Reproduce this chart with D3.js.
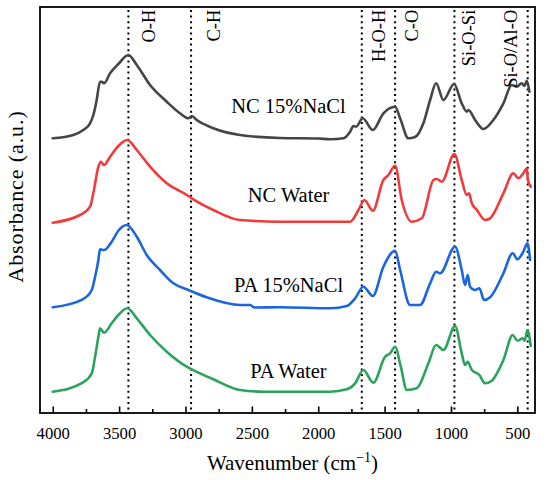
<!DOCTYPE html>
<html lang="en">
<head>
  <meta charset="UTF-8">
  <title>FTIR spectra</title>
  <script src="https://d3js.org/d3.v7.min.js"></script>
  <style>
    body {
      margin: 0;
      background-color: #fff;
    }

    svg {
      display: block;
      font-family: 'Liberation Serif', 'Times New Roman', serif;
    }

    .frame {
      fill: none;
      stroke: #000;
      stroke-width: 1.8px;
    }

    .axis path {
      display: none;
    }

    .axis line {
      stroke: #000;
      stroke-width: 1.6px;
    }

    .axis text {
      font-family: 'Liberation Serif', 'Times New Roman', serif;
      font-size: 16.7px;
      fill: #000;
    }

    .spectrum {
      fill: none;
      stroke-width: 2.6px;
      stroke-linejoin: round;
      stroke-linecap: round;
    }

    .marker {
      stroke: #000;
      stroke-width: 2px;
      stroke-dasharray: 2,3.6;
    }
  </style>
</head>
<body>
  <svg width="550" height="480"></svg>

  <script>
    // spectra: [wavenumber cm-1, stacked absorbance a.u.]
    const ncNacl = [
      [4000, 2.747], [3845, 2.78], [3770, 2.83], [3719, 2.897], [3694, 2.98], [3669, 3.13],
      [3644, 3.313], [3631, 3.313], [3614, 3.297], [3568, 3.397], [3506, 3.49], [3430, 3.58],
      [3367, 3.48], [3267, 3.28], [3141, 3.113], [3041, 2.997], [2978, 2.947], [2953, 2.97],
      [2915, 2.93], [2790, 2.847], [2589, 2.78], [2286, 2.75], [2000, 2.745], [1911, 2.737],
      [1811, 2.747], [1760, 2.813], [1735, 2.87], [1715, 2.863], [1665, 2.947], [1589, 2.83],
      [1509, 2.997], [1421, 3.063], [1383, 2.947], [1321, 2.747], [1270, 2.76], [1208, 2.897],
      [1157, 3.13], [1112, 3.297], [1057, 3.13], [977, 3.29], [919, 3.097], [881, 3.013],
      [869, 3.03], [818, 2.93], [756, 2.84], [681, 2.93], [605, 3.097], [542, 3.28],
      [504, 3.263], [467, 3.297], [447, 3.27], [429, 3.323], [409, 3.213]
    ];

    const ncWater = [
      [4000, 1.903], [3794, 1.98], [3719, 2.063], [3694, 2.2], [3656, 2.463], [3638, 2.513],
      [3614, 2.48], [3568, 2.563], [3506, 2.67], [3438, 2.73], [3367, 2.63], [3267, 2.463],
      [3141, 2.297], [2990, 2.18], [2953, 2.147], [2790, 2.03], [2589, 1.93], [2287, 1.913],
      [1760, 1.913], [1697, 2.03], [1652, 2.13], [1589, 2.023], [1509, 2.33], [1471, 2.38],
      [1421, 2.473], [1371, 2.13], [1295, 1.913], [1220, 1.947], [1132, 2.33], [1107, 2.34],
      [1069, 2.313], [974, 2.59], [919, 2.33], [881, 2.18], [864, 2.197], [843, 2.097],
      [805, 2.03], [743, 1.93], [705, 1.947], [605, 2.197], [530, 2.397], [492, 2.347],
      [455, 2.397], [429, 2.447], [420, 2.33], [399, 2.263]
    ];

    const paNacl = [
      [4000, 1.057], [3774, 1.137], [3706, 1.23], [3681, 1.363], [3656, 1.53], [3644, 1.637],
      [3614, 1.63], [3556, 1.713], [3506, 1.823], [3443, 1.88], [3367, 1.763], [3292, 1.58],
      [3192, 1.43], [3091, 1.297], [2978, 1.23], [2840, 1.157], [2589, 1.08], [2513, 1.08],
      [2480, 1.055], [2287, 1.057], [1911, 1.047], [1785, 1.07], [1722, 1.147], [1660, 1.263],
      [1589, 1.17], [1509, 1.463], [1421, 1.623], [1383, 1.43], [1308, 1.08], [1233, 1.08],
      [1157, 1.297], [1112, 1.413], [1082, 1.397], [969, 1.663], [919, 1.43], [894, 1.28],
      [874, 1.38], [856, 1.263], [818, 1.23], [786, 1.247], [751, 1.13], [705, 1.157],
      [605, 1.397], [535, 1.597], [499, 1.537], [455, 1.613], [424, 1.697], [404, 1.53]
    ];

    const paWater = [
      [4000, 0.213], [3774, 0.303], [3706, 0.397], [3681, 0.563], [3656, 0.763], [3644, 0.847],
      [3614, 0.803], [3556, 0.897], [3506, 0.98], [3438, 1.047], [3367, 0.947], [3267, 0.78],
      [3141, 0.613], [2990, 0.463], [2953, 0.437], [2790, 0.337], [2589, 0.23], [2400, 0.213],
      [2287, 0.213], [1911, 0.213], [1785, 0.237], [1722, 0.297], [1660, 0.43], [1585, 0.303],
      [1496, 0.563], [1459, 0.597], [1421, 0.663], [1378, 0.463], [1333, 0.23], [1258, 0.247],
      [1170, 0.497], [1112, 0.68], [1057, 0.63], [969, 0.87], [919, 0.597], [894, 0.48],
      [874, 0.513], [843, 0.43], [786, 0.38], [743, 0.297], [693, 0.323], [605, 0.53],
      [535, 0.78], [499, 0.723], [459, 0.747], [445, 0.723], [424, 0.83], [399, 0.67]
    ];

    const seriesNames = ["NC 15%NaCl", "NC Water", "PA 15%NaCl", "PA Water"];
    const seriesData = [ncNacl, ncWater, paNacl, paWater];
    const seriesColors = ["#454545", "#f23a3c", "#1a66e0", "#2ca35d"];

    const bondLabels = ["O-H", "C-H", "H-O-H", "C-O", "Si-O-Si", "Si-O/Al-O"];
    const bondWavenumbers = [3430, 2958, 1672, 1421, 974, 422];

    const majorTicks = [4000, 3500, 3000, 2500, 2000, 1500, 1000, 500];
    const minorTicks = [3750, 3250, 2750, 2250, 1750, 1250, 750];

    // layout
    const svg = d3.select("svg"),
          plotLeft = 40, plotRight = 535, plotTop = 7, plotBottom = 413;

    const x = d3.scaleLinear().domain([4096, 367]).range([plotLeft, plotRight]);
    const y = d3.scaleLinear().domain([0, 4.06]).range([plotBottom, plotTop]);

    const labelAnchor = {wn: 2224, dy: [3.0, 2.11, 1.213, 0.347]};
    const bondOffsets = [26.7, 29, 23.3, 23, 20.7, -11];

    // dotted marker lines
    svg.selectAll(".marker")
      .data(bondWavenumbers)
      .enter().append("line")
        .attr("class", "marker")
        .attr("x1", d => x(d))
        .attr("x2", d => x(d))
        .attr("y1", plotTop + 3)
        .attr("y2", plotBottom);

    // spectra
    const line = d3.line()
      .x(d => x(d[0]))
      .y(d => y(d[1]))
      .curve(d3.curveMonotoneX);

    svg.selectAll(".spectrum")
      .data(seriesData)
      .enter().append("path")
        .attr("class", "spectrum")
        .attr("stroke", (d, i) => seriesColors[i])
        .attr("d", line);

    // series labels
    svg.selectAll(".series-label")
      .data(seriesNames)
      .enter().append("text")
        .attr("class", "series-label")
        .attr("x", x(labelAnchor.wn))
        .attr("y", (d, i) => y(labelAnchor.dy[i]))
        .attr("text-anchor", "middle")
        .style("font-size", "20.5px")
        .text(d => d);

    // bond labels, rotated
    svg.selectAll(".bond-label")
      .data(bondLabels)
      .enter().append("text")
        .attr("class", "bond-label")
        .attr("transform", (d, i) => `translate(${x(bondWavenumbers[i]) + bondOffsets[i]},${plotTop + 2.7}) rotate(-90)`)
        .attr("text-anchor", "end")
        .style("font-size", "18.5px")
        .text(d => d);

    // frame
    svg.append("rect")
      .attr("class", "frame")
      .attr("x", plotLeft)
      .attr("y", plotTop)
      .attr("width", plotRight - plotLeft)
      .attr("height", plotBottom - plotTop);

    // bottom axis, ticks pointing inward
    svg.append("g")
      .attr("class", "axis")
      .attr("transform", `translate(0,${plotBottom})`)
      .call(d3.axisBottom(x).tickValues(majorTicks).tickFormat(d3.format("d"))
        .tickSizeInner(-6.5).tickSizeOuter(0).tickPadding(14.5));

    svg.append("g")
      .attr("class", "axis")
      .attr("transform", `translate(0,${plotBottom})`)
      .call(d3.axisBottom(x).tickValues(minorTicks).tickSizeInner(-4).tickSizeOuter(0).tickFormat(""));

    // axis titles
    const xTitle = svg.append("text")
      .attr("x", 292.5)
      .attr("y", 469.5)
      .attr("text-anchor", "middle")
      .style("font-size", "21px");
    xTitle.append("tspan").text("Wavenumber (cm");
    xTitle.append("tspan").attr("dy", -8).style("font-size", "14px").text("\u22121");
    xTitle.append("tspan").attr("dy", 8).text(")");

    svg.append("text")
      .attr("transform", `translate(23,196.5) rotate(-90)`)
      .attr("text-anchor", "middle")
      .style("font-size", "22px")
      .style("letter-spacing", "0.9px")
      .text("Absorbance (a.u.)");
  </script>
</body>
</html>
